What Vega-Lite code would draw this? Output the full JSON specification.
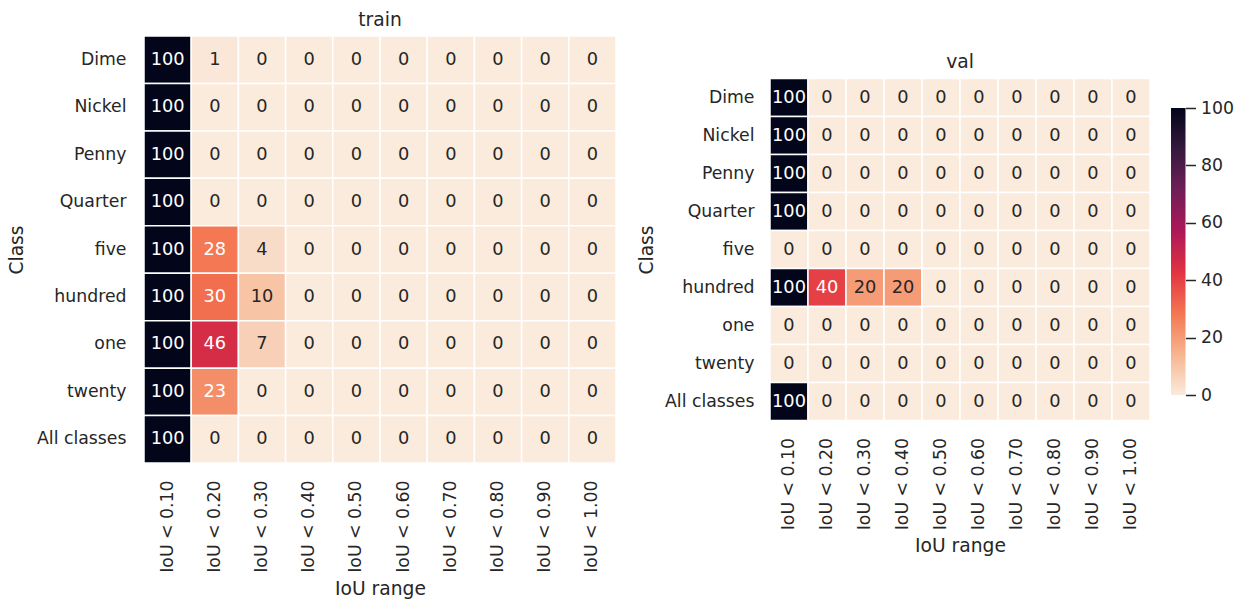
{
  "$schema": "https://vega.github.io/schema/vega-lite/v6.json",
  "padding": {"left": 7, "top": 10, "right": 5, "bottom": 3},
  "background": "white",
  "datasets": {
    "train": [
      {"c":"Dime","r":"IoU < 0.10","v":100},{"c":"Dime","r":"IoU < 0.20","v":1},{"c":"Dime","r":"IoU < 0.30","v":0},{"c":"Dime","r":"IoU < 0.40","v":0},{"c":"Dime","r":"IoU < 0.50","v":0},{"c":"Dime","r":"IoU < 0.60","v":0},{"c":"Dime","r":"IoU < 0.70","v":0},{"c":"Dime","r":"IoU < 0.80","v":0},{"c":"Dime","r":"IoU < 0.90","v":0},{"c":"Dime","r":"IoU < 1.00","v":0},
      {"c":"Nickel","r":"IoU < 0.10","v":100},{"c":"Nickel","r":"IoU < 0.20","v":0},{"c":"Nickel","r":"IoU < 0.30","v":0},{"c":"Nickel","r":"IoU < 0.40","v":0},{"c":"Nickel","r":"IoU < 0.50","v":0},{"c":"Nickel","r":"IoU < 0.60","v":0},{"c":"Nickel","r":"IoU < 0.70","v":0},{"c":"Nickel","r":"IoU < 0.80","v":0},{"c":"Nickel","r":"IoU < 0.90","v":0},{"c":"Nickel","r":"IoU < 1.00","v":0},
      {"c":"Penny","r":"IoU < 0.10","v":100},{"c":"Penny","r":"IoU < 0.20","v":0},{"c":"Penny","r":"IoU < 0.30","v":0},{"c":"Penny","r":"IoU < 0.40","v":0},{"c":"Penny","r":"IoU < 0.50","v":0},{"c":"Penny","r":"IoU < 0.60","v":0},{"c":"Penny","r":"IoU < 0.70","v":0},{"c":"Penny","r":"IoU < 0.80","v":0},{"c":"Penny","r":"IoU < 0.90","v":0},{"c":"Penny","r":"IoU < 1.00","v":0},
      {"c":"Quarter","r":"IoU < 0.10","v":100},{"c":"Quarter","r":"IoU < 0.20","v":0},{"c":"Quarter","r":"IoU < 0.30","v":0},{"c":"Quarter","r":"IoU < 0.40","v":0},{"c":"Quarter","r":"IoU < 0.50","v":0},{"c":"Quarter","r":"IoU < 0.60","v":0},{"c":"Quarter","r":"IoU < 0.70","v":0},{"c":"Quarter","r":"IoU < 0.80","v":0},{"c":"Quarter","r":"IoU < 0.90","v":0},{"c":"Quarter","r":"IoU < 1.00","v":0},
      {"c":"five","r":"IoU < 0.10","v":100},{"c":"five","r":"IoU < 0.20","v":28},{"c":"five","r":"IoU < 0.30","v":4},{"c":"five","r":"IoU < 0.40","v":0},{"c":"five","r":"IoU < 0.50","v":0},{"c":"five","r":"IoU < 0.60","v":0},{"c":"five","r":"IoU < 0.70","v":0},{"c":"five","r":"IoU < 0.80","v":0},{"c":"five","r":"IoU < 0.90","v":0},{"c":"five","r":"IoU < 1.00","v":0},
      {"c":"hundred","r":"IoU < 0.10","v":100},{"c":"hundred","r":"IoU < 0.20","v":30},{"c":"hundred","r":"IoU < 0.30","v":10},{"c":"hundred","r":"IoU < 0.40","v":0},{"c":"hundred","r":"IoU < 0.50","v":0},{"c":"hundred","r":"IoU < 0.60","v":0},{"c":"hundred","r":"IoU < 0.70","v":0},{"c":"hundred","r":"IoU < 0.80","v":0},{"c":"hundred","r":"IoU < 0.90","v":0},{"c":"hundred","r":"IoU < 1.00","v":0},
      {"c":"one","r":"IoU < 0.10","v":100},{"c":"one","r":"IoU < 0.20","v":46},{"c":"one","r":"IoU < 0.30","v":7},{"c":"one","r":"IoU < 0.40","v":0},{"c":"one","r":"IoU < 0.50","v":0},{"c":"one","r":"IoU < 0.60","v":0},{"c":"one","r":"IoU < 0.70","v":0},{"c":"one","r":"IoU < 0.80","v":0},{"c":"one","r":"IoU < 0.90","v":0},{"c":"one","r":"IoU < 1.00","v":0},
      {"c":"twenty","r":"IoU < 0.10","v":100},{"c":"twenty","r":"IoU < 0.20","v":23},{"c":"twenty","r":"IoU < 0.30","v":0},{"c":"twenty","r":"IoU < 0.40","v":0},{"c":"twenty","r":"IoU < 0.50","v":0},{"c":"twenty","r":"IoU < 0.60","v":0},{"c":"twenty","r":"IoU < 0.70","v":0},{"c":"twenty","r":"IoU < 0.80","v":0},{"c":"twenty","r":"IoU < 0.90","v":0},{"c":"twenty","r":"IoU < 1.00","v":0},
      {"c":"All classes","r":"IoU < 0.10","v":100},{"c":"All classes","r":"IoU < 0.20","v":0},{"c":"All classes","r":"IoU < 0.30","v":0},{"c":"All classes","r":"IoU < 0.40","v":0},{"c":"All classes","r":"IoU < 0.50","v":0},{"c":"All classes","r":"IoU < 0.60","v":0},{"c":"All classes","r":"IoU < 0.70","v":0},{"c":"All classes","r":"IoU < 0.80","v":0},{"c":"All classes","r":"IoU < 0.90","v":0},{"c":"All classes","r":"IoU < 1.00","v":0}
    ],
    "val": [
      {"c":"Dime","r":"IoU < 0.10","v":100},{"c":"Dime","r":"IoU < 0.20","v":0},{"c":"Dime","r":"IoU < 0.30","v":0},{"c":"Dime","r":"IoU < 0.40","v":0},{"c":"Dime","r":"IoU < 0.50","v":0},{"c":"Dime","r":"IoU < 0.60","v":0},{"c":"Dime","r":"IoU < 0.70","v":0},{"c":"Dime","r":"IoU < 0.80","v":0},{"c":"Dime","r":"IoU < 0.90","v":0},{"c":"Dime","r":"IoU < 1.00","v":0},
      {"c":"Nickel","r":"IoU < 0.10","v":100},{"c":"Nickel","r":"IoU < 0.20","v":0},{"c":"Nickel","r":"IoU < 0.30","v":0},{"c":"Nickel","r":"IoU < 0.40","v":0},{"c":"Nickel","r":"IoU < 0.50","v":0},{"c":"Nickel","r":"IoU < 0.60","v":0},{"c":"Nickel","r":"IoU < 0.70","v":0},{"c":"Nickel","r":"IoU < 0.80","v":0},{"c":"Nickel","r":"IoU < 0.90","v":0},{"c":"Nickel","r":"IoU < 1.00","v":0},
      {"c":"Penny","r":"IoU < 0.10","v":100},{"c":"Penny","r":"IoU < 0.20","v":0},{"c":"Penny","r":"IoU < 0.30","v":0},{"c":"Penny","r":"IoU < 0.40","v":0},{"c":"Penny","r":"IoU < 0.50","v":0},{"c":"Penny","r":"IoU < 0.60","v":0},{"c":"Penny","r":"IoU < 0.70","v":0},{"c":"Penny","r":"IoU < 0.80","v":0},{"c":"Penny","r":"IoU < 0.90","v":0},{"c":"Penny","r":"IoU < 1.00","v":0},
      {"c":"Quarter","r":"IoU < 0.10","v":100},{"c":"Quarter","r":"IoU < 0.20","v":0},{"c":"Quarter","r":"IoU < 0.30","v":0},{"c":"Quarter","r":"IoU < 0.40","v":0},{"c":"Quarter","r":"IoU < 0.50","v":0},{"c":"Quarter","r":"IoU < 0.60","v":0},{"c":"Quarter","r":"IoU < 0.70","v":0},{"c":"Quarter","r":"IoU < 0.80","v":0},{"c":"Quarter","r":"IoU < 0.90","v":0},{"c":"Quarter","r":"IoU < 1.00","v":0},
      {"c":"five","r":"IoU < 0.10","v":0},{"c":"five","r":"IoU < 0.20","v":0},{"c":"five","r":"IoU < 0.30","v":0},{"c":"five","r":"IoU < 0.40","v":0},{"c":"five","r":"IoU < 0.50","v":0},{"c":"five","r":"IoU < 0.60","v":0},{"c":"five","r":"IoU < 0.70","v":0},{"c":"five","r":"IoU < 0.80","v":0},{"c":"five","r":"IoU < 0.90","v":0},{"c":"five","r":"IoU < 1.00","v":0},
      {"c":"hundred","r":"IoU < 0.10","v":100},{"c":"hundred","r":"IoU < 0.20","v":40},{"c":"hundred","r":"IoU < 0.30","v":20},{"c":"hundred","r":"IoU < 0.40","v":20},{"c":"hundred","r":"IoU < 0.50","v":0},{"c":"hundred","r":"IoU < 0.60","v":0},{"c":"hundred","r":"IoU < 0.70","v":0},{"c":"hundred","r":"IoU < 0.80","v":0},{"c":"hundred","r":"IoU < 0.90","v":0},{"c":"hundred","r":"IoU < 1.00","v":0},
      {"c":"one","r":"IoU < 0.10","v":0},{"c":"one","r":"IoU < 0.20","v":0},{"c":"one","r":"IoU < 0.30","v":0},{"c":"one","r":"IoU < 0.40","v":0},{"c":"one","r":"IoU < 0.50","v":0},{"c":"one","r":"IoU < 0.60","v":0},{"c":"one","r":"IoU < 0.70","v":0},{"c":"one","r":"IoU < 0.80","v":0},{"c":"one","r":"IoU < 0.90","v":0},{"c":"one","r":"IoU < 1.00","v":0},
      {"c":"twenty","r":"IoU < 0.10","v":0},{"c":"twenty","r":"IoU < 0.20","v":0},{"c":"twenty","r":"IoU < 0.30","v":0},{"c":"twenty","r":"IoU < 0.40","v":0},{"c":"twenty","r":"IoU < 0.50","v":0},{"c":"twenty","r":"IoU < 0.60","v":0},{"c":"twenty","r":"IoU < 0.70","v":0},{"c":"twenty","r":"IoU < 0.80","v":0},{"c":"twenty","r":"IoU < 0.90","v":0},{"c":"twenty","r":"IoU < 1.00","v":0},
      {"c":"All classes","r":"IoU < 0.10","v":100},{"c":"All classes","r":"IoU < 0.20","v":0},{"c":"All classes","r":"IoU < 0.30","v":0},{"c":"All classes","r":"IoU < 0.40","v":0},{"c":"All classes","r":"IoU < 0.50","v":0},{"c":"All classes","r":"IoU < 0.60","v":0},{"c":"All classes","r":"IoU < 0.70","v":0},{"c":"All classes","r":"IoU < 0.80","v":0},{"c":"All classes","r":"IoU < 0.90","v":0},{"c":"All classes","r":"IoU < 1.00","v":0}
    ],
    "cbar": [{"lo": 0, "hi": 100}]
  },
  "spacing": 20,
  "center": true,
  "hconcat": [
    {
      "width": 472, "height": 427,
      "title": {"text": "train"},
      "data": {"name": "train"},
      "encoding": {
        "x": {"field": "r", "type": "nominal", "sort": null, "title": "IoU range", "scale": {"paddingInner": 0, "paddingOuter": 0}},
        "y": {"field": "c", "type": "nominal", "sort": null, "title": "Class", "scale": {"paddingInner": 0, "paddingOuter": 0}, "axis": {"labelPadding": 18}}
      },
      "layer": [
        {"mark": {"type": "rect", "stroke": "white", "strokeWidth": 1.5},
         "encoding": {"color": {"field": "v", "type": "quantitative", "legend": null,
           "scale": {"domain": [0, 14.286, 28.571, 42.857, 57.143, 71.429, 85.714, 100], "range": ["#faebdd", "#f6b48f", "#f37651", "#e13342", "#ad1759", "#701f57", "#35193e", "#03051a"], "interpolate": "rgb"}}}},
        {"mark": {"type": "text", "fontSize": 17.8, "baseline": "middle", "align": "center"},
         "encoding": {"text": {"field": "v", "type": "quantitative"},
           "color": {"condition": {"test": "datum.v > 21", "value": "white"}, "value": "#262626"}}}
      ]
    },
    {
      "width": 380, "height": 342,
      "title": {"text": "val"},
      "data": {"name": "val"},
      "encoding": {
        "x": {"field": "r", "type": "nominal", "sort": null, "title": "IoU range", "scale": {"paddingInner": 0, "paddingOuter": 0}},
        "y": {"field": "c", "type": "nominal", "sort": null, "title": "Class", "scale": {"paddingInner": 0, "paddingOuter": 0}, "axis": {"titlePadding": 8, "labelPadding": 16}}
      },
      "layer": [
        {"mark": {"type": "rect", "stroke": "white", "strokeWidth": 1.5},
         "encoding": {"color": {"field": "v", "type": "quantitative", "legend": null,
           "scale": {"domain": [0, 14.286, 28.571, 42.857, 57.143, 71.429, 85.714, 100], "range": ["#faebdd", "#f6b48f", "#f37651", "#e13342", "#ad1759", "#701f57", "#35193e", "#03051a"], "interpolate": "rgb"}}}},
        {"mark": {"type": "text", "fontSize": 17.8, "baseline": "middle", "align": "center"},
         "encoding": {"text": {"field": "v", "type": "quantitative"},
           "color": {"condition": {"test": "datum.v > 21", "value": "white"}, "value": "#262626"}}}
      ]
    },
    {
      "width": 14.5, "height": 418,
      "data": {"name": "cbar"},
      "mark": {"type": "rect", "fill": {"gradient": "linear", "x1": 0, "y1": 1, "x2": 0, "y2": 0,
        "stops": [
          {"offset": 0, "color": "#faebdd"}, {"offset": 0.14286, "color": "#f6b48f"}, {"offset": 0.28571, "color": "#f37651"},
          {"offset": 0.42857, "color": "#e13342"}, {"offset": 0.57143, "color": "#ad1759"}, {"offset": 0.71429, "color": "#701f57"},
          {"offset": 0.85714, "color": "#35193e"}, {"offset": 1, "color": "#03051a"}]}},
      "encoding": {
        "y": {"field": "lo", "type": "quantitative", "scale": {"domain": [-45.64, 100], "nice": false, "zero": false},
          "axis": {"orient": "right", "values": [0, 20, 40, 60, 80, 100], "title": null, "domain": false, "grid": false, "ticks": true, "tickSize": 10, "tickWidth": 1.5, "tickColor": "#262626", "labelPadding": 5, "labelFontSize": 17.3, "labelColor": "#262626", "labelBaseline": "middle"}},
        "y2": {"field": "hi"}
      }
    }
  ],
  "config": {
    "font": "DejaVu Sans",
    "view": {"stroke": null},
    "title": {"fontSize": 18.7, "fontWeight": "normal", "color": "#262626", "offset": 6, "anchor": "middle"},
    "axis": {
      "domain": false, "ticks": false, "grid": false,
      "labelFontSize": 17.3, "labelColor": "#262626", "labelPadding": 17,
      "titleFontSize": 18.7, "titleFontWeight": "normal", "titleColor": "#262626"
    },
    "axisX": {"labelAngle": -90, "titlePadding": 7},
    "axisY": {"titlePadding": 10}
  }
}
